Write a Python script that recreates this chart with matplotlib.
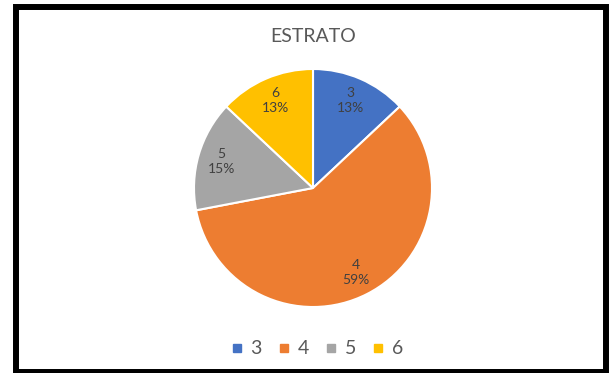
import matplotlib.pyplot as plt
import numpy as np
from matplotlib.lines import Line2D
from matplotlib.patches import Rectangle

categories = ['3', '4', '5', '6']
percent = [13, 59, 15, 13]
colors = ['#4472C4', '#ED7D31', '#A5A5A5', '#FFC000']
title = 'ESTRATO'

W, H = 610, 373
text_gray = '#595959'
label_gray = '#404040'

plt.rcParams['font.family'] = ['Lato', 'DejaVu Sans']


def main():
	fig = plt.figure(figsize=(W / 100, H / 100), dpi=100)
	fig.patch.set_facecolor('white')

	# pie area in pixels: left, top, right, bottom
	px0, py0, px1, py1 = 194, 69, 432, 307
	ax = fig.add_axes([px0 / W, 1 - py1 / H, (px1 - px0) / W, (py1 - py0) / H])
	ax.set_aspect('equal')
	ax.axis('off')

	wedges, _ = ax.pie(percent, colors=colors, startangle=90, counterclock=False,
		radius=1, wedgeprops=dict(edgecolor='white', linewidth=1.5))
	ax.set_xlim(-1.0, 1.0)
	ax.set_ylim(-1.0, 1.0)

	for w, cat, p in zip(wedges, categories, percent):
		mid = np.deg2rad((w.theta1 + w.theta2) / 2)
		r = 0.8
		ax.text(r * np.cos(mid), r * np.sin(mid), '%s\n%d%%' % (cat, p),
			ha='center', va='center', fontsize=10, color=label_gray,
			linespacing=1.3)

	fig.text(313 / W, 1 - 36 / H, title, ha='center', va='center',
		fontsize=14, color=text_gray)

	handles = [Line2D([], [], marker='s', linestyle='none', markersize=6,
		markerfacecolor=c, markeredgecolor=c) for c in colors]
	leg = fig.legend(handles, categories, loc='center', ncol=4,
		bbox_to_anchor=(316 / W, 1 - 349 / H), frameon=False,
		fontsize=14, handlelength=0.8, handletextpad=0.3, columnspacing=0.75,
		labelcolor=text_gray)

	# black frame round the chart
	fx0, fy0, fx1, fy1 = 16, 7, 605.5, 371.5
	fig.patches.append(Rectangle((fx0 / W, 1 - fy1 / H), (fx1 - fx0) / W, (fy1 - fy0) / H,
		transform=fig.transFigure, fill=False, edgecolor='black', linewidth=4.3))

	fig.savefig('out.png', dpi=100, facecolor='white')


if __name__ == "__main__":
	main()
